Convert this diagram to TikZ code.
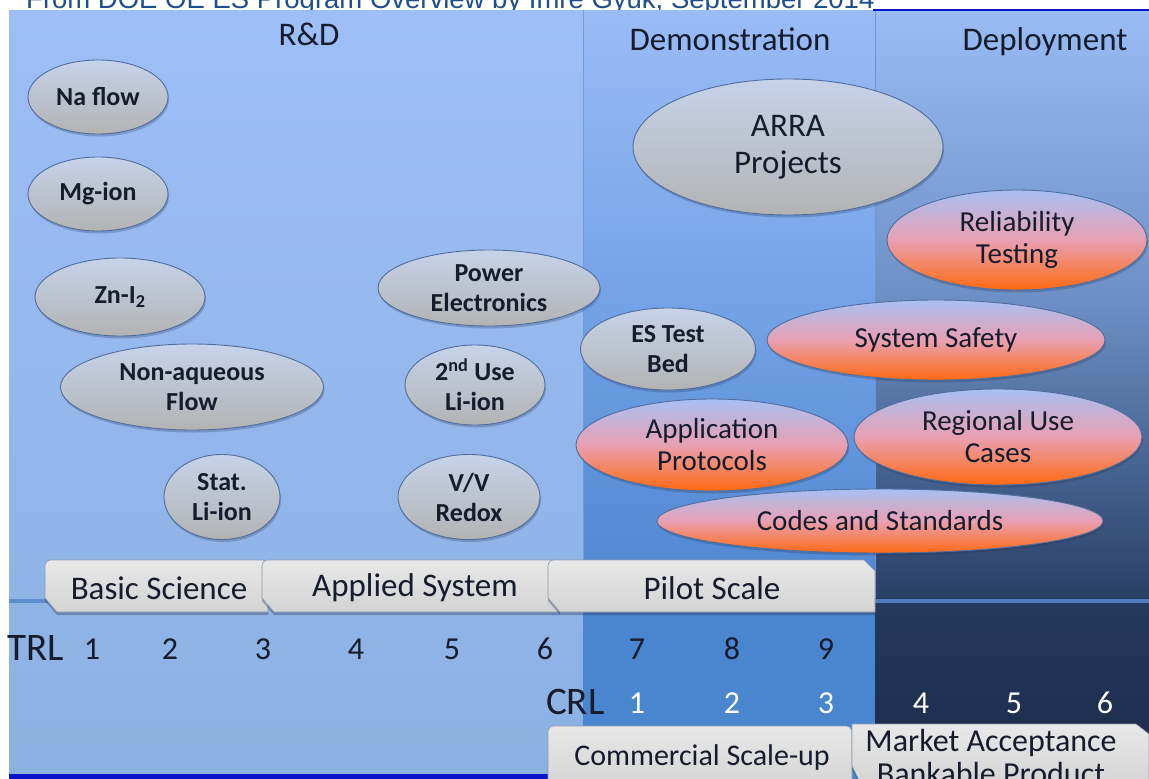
\documentclass[tikz,border=0pt]{standalone}
\usepackage{fontspec}
\setmainfont{Carlito}
\newfontfamily\captionfont{Liberation Sans}
\usetikzlibrary{shapes.geometric,shadows}

\definecolor{capblue}{HTML}{1F4E8C}
\definecolor{inkdark}{HTML}{161C2C}
\definecolor{rdTop}{HTML}{9DBEF7}
\definecolor{rdBot}{HTML}{8BB1E1}
\definecolor{demoTop}{HTML}{9ABCF6}
\definecolor{demoMid}{HTML}{74A2E6}
\definecolor{demoBot}{HTML}{4D86D0}
\definecolor{demoLow}{HTML}{4A85D0}
\definecolor{depTop}{HTML}{9ABCF5}
\definecolor{depMid}{HTML}{6B8FC4}
\definecolor{depBot}{HTML}{2A3F66}
\definecolor{depLowTop}{HTML}{25395E}
\definecolor{depLowBot}{HTML}{1B2B48}
\definecolor{bandblue}{HTML}{5586CC}
\definecolor{edgeblue}{HTML}{0A14C8}
\definecolor{ellborder}{HTML}{4F6E9E}
\definecolor{grayTop}{HTML}{C6D3EA}
\definecolor{grayBot}{HTML}{B3B3B3}
\definecolor{orTop}{HTML}{A8C0F4}
\definecolor{orMid}{HTML}{E9A0B2}
\definecolor{orBot}{HTML}{FF6A12}
\definecolor{tabTop}{HTML}{E8E8E8}
\definecolor{tabBot}{HTML}{D3D3D3}
\definecolor{tabEdge}{HTML}{8C9AB0}
\definecolor{shadowink}{HTML}{1E2E4E}

\newcommand{\fsz}[2]{\fontsize{#1}{#2}\selectfont}

\begin{document}
\begin{tikzpicture}[x=1pt,y=-1pt,
  softshadow/.style={drop shadow={shadow xshift=1pt, shadow yshift=-2.5pt, opacity=0.25, fill=shadowink}},
  grayell/.style={ellipse, draw=ellborder, line width=0.9pt, top color=grayTop, bottom color=grayBot,
    inner sep=0pt, align=center, text=inkdark, font=\bfseries\fsz{26}{30}, softshadow},
  orangeell/.style={ellipse, draw=ellborder, line width=0.9pt, top color=orTop, bottom color=orBot, middle color=orMid,
    inner sep=0pt, align=center, text=inkdark, font=\fsz{29}{32}, softshadow},
  hdr/.style={anchor=base, inner sep=0pt, text=inkdark, font=\fsz{33}{33}},
  tabshape/.style={draw=tabEdge, line width=0.6pt, top color=tabTop, bottom color=tabBot,
    drop shadow={shadow xshift=0pt, shadow yshift=-3pt, opacity=0.35, fill=shadowink}},
  tablabel/.style={inner sep=0pt, align=center, text=inkdark, font=\fsz{33}{33}},
  bottomlabel/.style={inner sep=0pt, align=center, text=inkdark, font=\fsz{31}{33}},
  levelname/.style={anchor=west, inner sep=0pt, text=inkdark, font=\fsz{39}{39}},
  trlnum/.style={inner sep=0pt, text=inkdark, font=\fsz{32}{32}},
  crlnum/.style={inner sep=0pt, text=white, font=\fsz{32}{32}},
]
\useasboundingbox (0,0) rectangle (1149,779);
\clip (0,0) rectangle (1149,779);
\fill[white] (0,0) rectangle (1149,779);

% source line above the slide
\node[anchor=base west, inner sep=0pt, font=\captionfont\fsz{27.5}{27.5}, text=capblue] (source) at (26,8.5)
  {From DOE OE ES Program Overview by Imre Gyuk, September 2014};

% column backgrounds
\fill[top color=rdTop, bottom color=rdBot] (9,10) rectangle (583,779);
\fill[top color=demoTop, bottom color=demoBot, middle color=demoMid] (583,10) rectangle (875,598);
\fill[demoLow] (583,598) rectangle (875,779);
\fill[top color=depTop, bottom color=depBot, middle color=depMid] (875,10) rectangle (1149,598);
\fill[top color=depLowTop, bottom color=depLowBot] (875,598) rectangle (1149,779);

% column dividers, axis band and slide edges
\draw[color=bandblue!60!rdTop, line width=1pt] (583,10) -- (583,598);
\draw[color=bandblue!70!depTop, line width=1pt] (875,10) -- (875,598);
\draw[color=bandblue, opacity=0.85, line width=4.5pt] (9,601) -- (1149,601);
\draw[color=edgeblue, line width=2.5pt] (873,10) -- (1149,10);
\draw[color=edgeblue, line width=5pt] (9,776.5) -- (548,776.5);

% column headings
\node[hdr] (rd) at (309,45) {R\&D};
\node[hdr] (demo) at (730,50) {Demonstration};
\node[hdr] (depl) at (1045,50) {Deployment};

% research topics
\node[grayell, minimum width=140pt, minimum height=74pt] (naflow) at (98,97) {Na flow};
\node[grayell, minimum width=140pt, minimum height=74pt] (mgion) at (98,194) {Mg-ion};
\node[grayell, minimum width=170pt, minimum height=78pt] (zni) at (120,297) {Zn-I\textsubscript{2}};
\node[grayell, minimum width=263pt, minimum height=86pt] (nonaq) at (192,387) {Non-aqueous\\Flow};
\node[grayell, minimum width=116pt, minimum height=85pt] (statli) at (222,497) {Stat.\\Li-ion};
\node[grayell, minimum width=222pt, minimum height=76pt] (powerel) at (489,288) {Power\\Electronics};
\node[grayell, minimum width=140pt, minimum height=80pt] (secondli) at (475,385) {2\textsuperscript{nd} Use\\Li-ion};
\node[grayell, minimum width=142pt, minimum height=85pt] (vvredox) at (469,497) {V/V\\Redox};

% demonstration topics
\node[grayell, font=\fsz{33}{37}, minimum width=310pt, minimum height=136pt] (arra) at (788,147) {ARRA\\Projects};
\node[grayell, minimum width=175pt, minimum height=82pt] (estest) at (668,349) {ES Test\\Bed};

% cross-cutting activities
\node[orangeell, minimum width=260pt, minimum height=100pt] (reliab) at (1017,240) {Reliability\\Testing};
\node[orangeell, minimum width=338pt, minimum height=80pt] (safety) at (936,340) {System Safety};
\node[orangeell, minimum width=272pt, minimum height=92pt] (approt) at (712,445) {Application\\Protocols};
\node[orangeell, minimum width=288pt, minimum height=96pt] (regional) at (998,437) {Regional Use\\Cases};
\node[orangeell, minimum width=446pt, minimum height=64pt] (codes) at (880,521) {Codes and Standards};

% stage tabs
\path[tabshape] (45,598) {[rounded corners=6pt] -- (45,560) -- (268,560)} -- (268,612) -- (57,612) -- cycle;
\path[tabshape] (262,598) {[rounded corners=6pt] -- (262,560) -- (560,560)} -- (560,612) -- (274,612) -- cycle;
\path[tabshape] (548,598) {[rounded corners=6pt] -- (548,560)} -- (864,560) -- (875,571) -- (875,612) -- (560,612) -- cycle;
\node[tablabel] (basic) at (159,588) {Basic Science};
\node[tablabel] (applied) at (415,588) {Applied System};
\node[tablabel] (pilot) at (712,588) {Pilot Scale};

\path[tabshape] (548,790) {[rounded corners=6pt] -- (548,726) -- (852,726)} -- (852,790) -- cycle;
\path[tabshape] (852,766) -- (852,724) -- (1136,724) -- (1149,734) -- (1149,790) -- (864,790) -- cycle;
\node[bottomlabel, font=\fsz{30}{33}] (commercial) at (702,757) {Commercial Scale-up};
\node[bottomlabel, font=\fsz{32}{33}] (market) at (991,757) {Market Acceptance\\Bankable Product};

% readiness levels
\node[levelname] (trl) at (7,648) {TRL};
\node[trlnum] (t1) at (92,649) {1};
\node[trlnum] (t2) at (170,649) {2};
\node[trlnum] (t3) at (263,649) {3};
\node[trlnum] (t4) at (356,649) {4};
\node[trlnum] (t5) at (452,649) {5};
\node[trlnum] (t6) at (545,649) {6};
\node[trlnum] (t7) at (637,649) {7};
\node[trlnum] (t8) at (732,649) {8};
\node[trlnum] (t9) at (826,649) {9};

\node[levelname] (crl) at (546,702) {CRL};
\node[crlnum] (c1) at (637,703) {1};
\node[crlnum] (c2) at (732,703) {2};
\node[crlnum] (c3) at (826,703) {3};
\node[crlnum] (c4) at (921,703) {4};
\node[crlnum] (c5) at (1014,703) {5};
\node[crlnum] (c6) at (1105,703) {6};
\end{tikzpicture}
\end{document}
